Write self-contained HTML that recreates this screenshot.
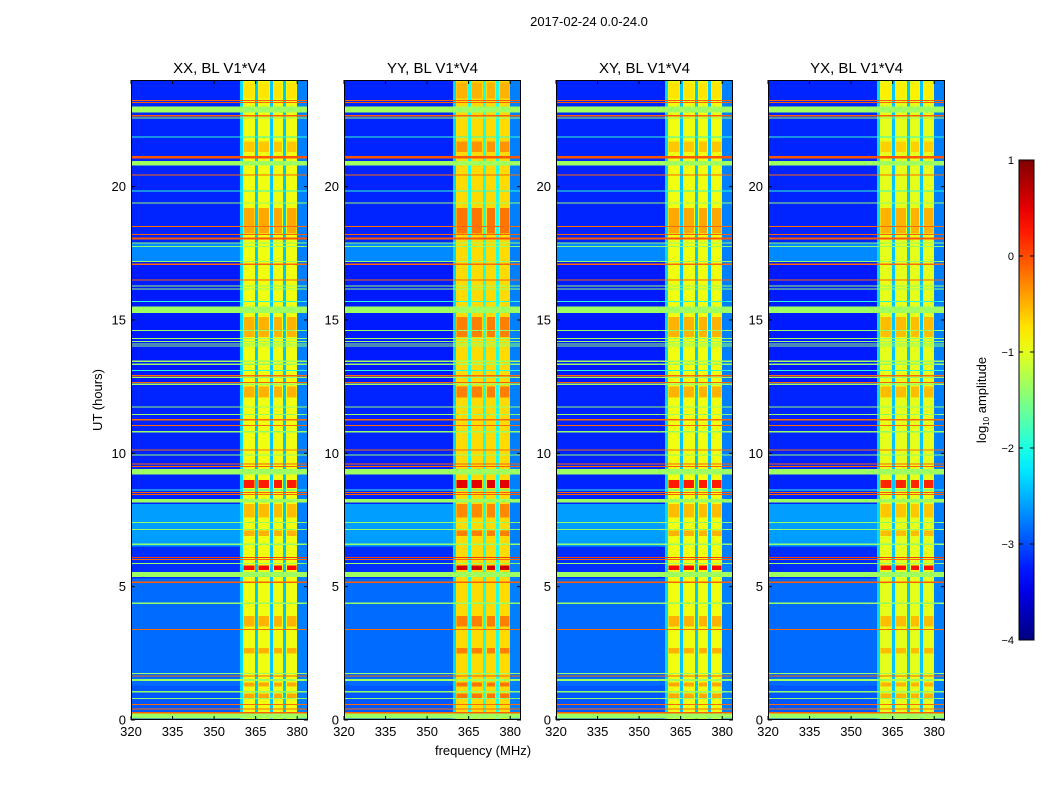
<!DOCTYPE html>
<html><head><meta charset="utf-8">
<style>
body{margin:0;background:#fff;}
svg{display:block;font-family:"Liberation Sans",sans-serif;}
</style></head>
<body>
<svg id="chart" width="1050" height="800" xmlns="http://www.w3.org/2000/svg">
<text x="589" y="26" font-size="13" text-anchor="middle">2017-02-24 0.0-24.0</text>
<text x="0" y="0" font-size="13" text-anchor="middle" transform="translate(102,400) rotate(-90)">UT (hours)</text>
<text x="483" y="755" font-size="13" text-anchor="middle">frequency (MHz)</text>
<g id="panels"></g>
<g id="cbar"></g>
</svg>
<script>
// ---- data ----
const panelTitles = ["XX, BL V1*V4","YY, BL V1*V4","XY, BL V1*V4","YX, BL V1*V4"];
const panelBandOffset = [0, 0.25, 0, -0.05];
const panelGapLevel = [-2.4, -2.0, -2.4, -2.4];
const xTicks = [320,335,350,365,380];
const yTicks = [0,5,10,15,20];
const cbTicks = [1,0,-1,-2,-3,-4];
// background rows: [startHour, endHour, log amplitude]
const bgRows = [[0,1.3,-2.95],[1.3,5.3,-2.85],[5.3,6.5,-3.15],[6.5,8.1,-2.6],[8.1,12.5,-3.2],[12.5,17.2,-3.25],[17.2,17.9,-2.7],[17.9,24,-3.2]];
// RFI sub-bands (MHz): [startFreq, endFreq]
const subBands = [[360.4,364.8],[365.8,370.2],[371.3,374.9],[376,380]];
// gaps between sub-bands
const gapBands = [[364.8,365.8],[370.2,371.3],[374.9,376]];
const edgeBands = [[359.3,360.4,-2.3],[380,384,-2.75]];
const bandBase = -0.95;
// bursts inside sub-bands: [start, end, level]
const bursts = [[0.8,1.0,-0.45],[1.25,1.4,-0.45],[2.5,2.7,-0.5],[3.5,3.9,-0.5],[5.62,5.8,0.35],[6.9,7.1,-0.5],[7.6,8.1,-0.55],[8.7,9.0,0.25],[12.1,12.5,-0.5],[14.37,15.12,-0.5],[18.25,19.2,-0.45],[21.3,21.7,-0.6],[23.3,23.9,-0.75]];
// horizontal lines across full band: [start, end, level]
const hLines = [[0.05,0.27,-1.35],[0.25,0.3,-0.1],[0.4,0.44,-0.15],[0.56,0.6,-0.15],[0.78,0.82,-1.4],[1.04,1.08,-1.4],[1.47,1.53,-1.35],[1.63,1.67,-0.1],[1.73,1.77,-1.4],[3.38,3.42,-0.15],[4.35,4.4,-1.4],[5.14,5.19,-0.1],[5.37,5.55,-1.35],[5.85,5.89,-1.4],[6.0,6.04,-0.15],[6.07,6.11,0.1],[6.57,6.61,-1.4],[7.13,7.17,-1.4],[7.39,7.43,-1.4],[8.16,8.29,-1.35],[8.44,8.48,-0.1],[8.51,8.55,-0.1],[8.6,8.64,-1.9],[9.2,9.41,-1.35],[9.48,9.52,-0.1],[9.58,9.62,-0.1],[9.91,9.95,-1.4],[10.1,10.14,-0.15],[10.79,10.83,-1.4],[11.03,11.07,-0.15],[11.24,11.28,-0.15],[11.44,11.48,-1.4],[11.72,11.76,-1.4],[12.56,12.61,-1.35],[12.63,12.67,-0.1],[12.82,12.86,-1.4],[12.89,12.93,-0.15],[13.08,13.12,-1.9],[13.32,13.36,-1.4],[13.43,13.48,-1.35],[14.0,14.04,-1.4],[14.08,14.12,-1.4],[14.17,14.21,-1.4],[14.28,14.33,-1.35],[14.58,14.62,-1.4],[15.27,15.5,-1.35],[15.67,15.71,-1.9],[16.14,16.18,-1.4],[16.25,16.29,-1.4],[16.48,16.52,-0.1],[17.07,17.11,-0.15],[17.17,17.21,-1.4],[17.73,17.77,-1.4],[17.86,17.9,-1.4],[18.02,18.09,-0.05],[18.19,18.23,-0.1],[18.48,18.52,-0.15],[19.37,19.41,-1.4],[19.82,19.86,-1.9],[20.42,20.46,-0.15],[20.8,20.97,-1.35],[21.05,21.15,-0.05],[21.84,21.88,-1.9],[22.56,22.6,-1.4],[22.64,22.68,-0.1],[22.78,23.0,-1.35],[23.13,23.17,-0.1],[23.21,23.25,-0.1]];
// ---- layout ----
const panelX = [131,344,556,768];
const PW = 177, PT = 80, PB = 720;
const F0 = 320, F1 = 383.9, T0 = 0, T1 = 24;
const NS = "http://www.w3.org/2000/svg";
function jet(v){
  let t = (v + 4) / 5; t = Math.max(0, Math.min(1, t));
  const f = x => Math.max(0, Math.min(1, x));
  const r = f(1.5 - Math.abs(4*t - 3)), g = f(1.5 - Math.abs(4*t - 2)), b = f(1.5 - Math.abs(4*t - 1));
  return `rgb(${Math.round(r*255)},${Math.round(g*255)},${Math.round(b*255)})`;
}
function mk(tag, attrs, parent){ const e = document.createElementNS(NS, tag); for (const k in attrs) e.setAttribute(k, attrs[k]); parent.appendChild(e); return e; }
const yScale = h => PB - (h - T0) / (T1 - T0) * (PB - PT);
const panelsG = document.getElementById('panels');
panelX.forEach((px, pi) => {
  const xScale = f => px + (f - F0) / (F1 - F0) * PW;
  const g = mk('g', {}, panelsG);
  
  
  const clipId = 'clip' + pi;
  const cp = mk('clipPath', {id: clipId}, g);
  mk('rect', {x: px, y: PT, width: PW, height: PB - PT}, cp);
  const hm = mk('g', {'clip-path': `url(#${clipId})`, 'shape-rendering': 'crispEdges'}, g);
  
  
  const cell = (f0, f1, t0, t1, v, name) => {
    const r = mk('rect', {x: xScale(f0), y: yScale(t1), width: xScale(f1) - xScale(f0), height: Math.max(1, yScale(t0) - yScale(t1)), fill: jet(v)}, hm);
    
    
  };
  bgRows.forEach(b => cell(F0, F1, b[0], b[1], b[2], 'background-cell'));
  edgeBands.forEach(e => cell(e[0], e[1], T0, T1, e[2], 'band-edge-cell'));
  subBands.forEach(s => cell(s[0], s[1], T0, T1, bandBase + panelBandOffset[pi], 'rfi-band-cell'));
  gapBands.forEach(s => cell(s[0], s[1], T0, T1, panelGapLevel[pi], 'band-gap-cell'));
  bursts.forEach(b => subBands.forEach(s => cell(s[0] + 0.3, s[1] - 0.3, b[0], b[1], b[2] + panelBandOffset[pi], 'rfi-burst-cell')));
  hLines.forEach(l => cell(F0, F1, l[0], l[1], l[2], 'rfi-line-cell'));
  const frame = mk('rect', {x: px + 0.5, y: PT + 0.5, width: PW - 1, height: PB - PT - 1, fill: 'none', stroke: '#000', 'stroke-width': 1}, g);
  
  
  const tt = mk('text', {x: px + PW/2, y: 73, 'font-size': 15, 'text-anchor': 'middle'}, g);
  tt.textContent = panelTitles[pi];
  
  
  xTicks.forEach(f => {
    const x = xScale(f);
    mk('line', {x1: x, x2: x, y1: PB, y2: PB - 4, stroke: '#000'}, g);
    mk('line', {x1: x, x2: x, y1: PT, y2: PT + 4, stroke: '#000'}, g);
    const t = mk('text', {x: x, y: PB + 16, 'font-size': 13, 'text-anchor': 'middle'}, g);
    t.textContent = f;
    
    
  });
  yTicks.forEach(h => {
    const y = yScale(h);
    mk('line', {x1: px, x2: px + 4, y1: y, y2: y, stroke: '#000'}, g);
    mk('line', {x1: px + PW, x2: px + PW - 4, y1: y, y2: y, stroke: '#000'}, g);
    const t = mk('text', {x: px - 5, y: y + 4.5, 'font-size': 13, 'text-anchor': 'end'}, g);
    t.textContent = h;
    
    
  });
});
// colorbar
const cb = document.getElementById('cbar');
const CX = 1019, CW = 15, CT = 160, CB = 640;
const defs = mk('defs', {}, cb);
const grad = mk('linearGradient', {id: 'jetg', x1: 0, y1: 1, x2: 0, y2: 0}, defs);
for (let i = 0; i <= 20; i++) mk('stop', {offset: i/20, 'stop-color': jet(-4 + 5*i/20)}, grad);
const cbr = mk('rect', {x: CX, y: CT, width: CW, height: CB - CT, fill: 'url(#jetg)', stroke: '#000'}, cb);


const cScale = v => CB - (v + 4) / 5 * (CB - CT);
cbTicks.forEach(v => {
  const y = cScale(v);
  mk('line', {x1: CX, x2: CX + 4, y1: y, y2: y, stroke: '#000'}, cb);
  mk('line', {x1: CX + CW, x2: CX + CW - 4, y1: y, y2: y, stroke: '#000'}, cb);
  const t = mk('text', {x: CX - 5, y: y + 4, 'font-size': 11, 'text-anchor': 'end'}, cb);
  t.textContent = v < 0 ? '\u2212' + (-v) : String(v);
  
  
});
const cl = mk('text', {x: 0, y: 0, 'font-size': 13, 'text-anchor': 'middle', transform: 'translate(986,400) rotate(-90)'}, cb);
cl.innerHTML = 'log<tspan font-size="8" dy="3">10</tspan><tspan dy="-3"> amplitude</tspan>';


</script>
</body></html>
